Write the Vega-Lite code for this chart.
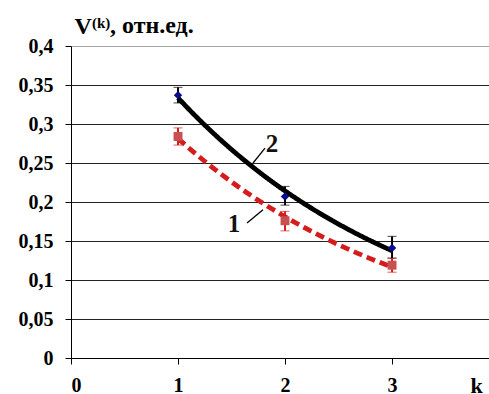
{
  "$schema": "https://vega.github.io/schema/vega-lite/v6.json",
  "width": 418,
  "height": 312,
  "autosize": "none",
  "padding": {"left": 71, "top": 46, "right": 0, "bottom": 36},
  "background": "white",
  "config": {"view": {"stroke": null}, "font": "Liberation Serif"},
  "datasets": {
    "pts": [
      {"series": "1", "k": 1, "v": 0.284, "ep": 0.011, "en": -0.011},
      {"series": "1", "k": 2, "v": 0.176, "ep": 0.012, "en": -0.013},
      {"series": "1", "k": 3, "v": 0.119, "ep": 0.009, "en": -0.009},
      {"series": "2", "k": 1, "v": 0.337, "ep": 0.010, "en": -0.010},
      {"series": "2", "k": 2, "v": 0.207, "ep": 0.013, "en": -0.011},
      {"series": "2", "k": 3, "v": 0.141, "ep": 0.015, "en": -0.013}
    ],
    "labels": [
      {"k": 1.879, "v": 0.274, "t": "2"},
      {"k": 1.523, "v": 0.172, "t": "1"}
    ],
    "leaders": [
      {"k": 1.813, "v": 0.269, "k2": 1.701, "v2": 0.25},
      {"k": 1.794, "v": 0.19, "k2": 1.645, "v2": 0.173}
    ],
    "sup": [{"k": 0.196, "v": 0.423, "t": "(k)"}],
    "unit": [{"k": 0.364, "v": 0.4167, "t": ", отн.ед."}]
  },
  "encoding": {
    "x": {
      "field": "k", "type": "quantitative", "title": "k",
      "scale": {"domain": [0, 3.906], "nice": false, "zero": false},
      "axis": {
        "values": [0, 1, 2, 3],
        "format": "d",
        "grid": false,
        "domainColor": "black", "domainWidth": 1,
        "tickColor": "black", "tickSize": 6,
        "labelFont": "Liberation Serif", "labelFontWeight": "bold", "labelFontSize": 20,
        "labelColor": "black", "labelPadding": 11,
        "title": "k", "titleX": 405, "titleY": 34, "titleAlign": "center",
        "titleBaseline": "alphabetic",
        "titleFont": "Liberation Serif", "titleFontSize": 22, "titleFontWeight": "bold",
        "titleColor": "black"
      }
    },
    "y": {
      "field": "v", "type": "quantitative", "title": "V",
      "scale": {"domain": [0, 0.4], "nice": false},
      "axis": {
        "values": [0, 0.05, 0.1, 0.15, 0.2, 0.25, 0.3, 0.35, 0.4],
        "grid": true,
        "gridColor": {"condition": {"test": "datum.value >= 0.4", "value": "#a6a6a6"}, "value": "#222222"},
        "gridWidth": 1,
        "domainColor": "black", "domainWidth": 1,
        "tickColor": "black", "tickSize": 6,
        "labelFont": "Liberation Serif", "labelFontWeight": "bold", "labelFontSize": 20,
        "labelColor": "black", "labelPadding": 12,
        "labelExpr": "replace(format(datum.value, '.2~f'), '.', ',')",
        "title": "V",
        "titleAngle": 0, "titleX": 3, "titleY": -13, "titleAlign": "left",
        "titleBaseline": "alphabetic",
        "titleFont": "Liberation Serif", "titleFontSize": 24, "titleFontWeight": "bold",
        "titleColor": "black"
      }
    }
  },
  "layer": [
    {
      "data": {"name": "pts"},
      "transform": [
        {"regression": "v", "on": "k", "method": "exp", "groupby": ["series"], "extent": [1, 3]}
      ],
      "mark": {"type": "line", "strokeWidth": 4.8},
      "encoding": {
        "color": {"field": "series", "type": "nominal", "scale": {"domain": ["1", "2"], "range": ["#d41c1c", "#000000"]}, "legend": null},
        "strokeDash": {"field": "series", "type": "nominal", "scale": {"domain": ["1", "2"], "range": [[9, 5], [1, 0]]}, "legend": null}
      }
    },
    {
      "data": {"name": "pts"},
      "mark": {"type": "errorbar", "ticks": {"size": 9, "strokeWidth": 2.5}, "rule": {"strokeWidth": 2}},
      "encoding": {
        "yError": {"field": "ep"},
        "yError2": {"field": "en"},
        "color": {"field": "series", "type": "nominal", "legend": null}
      }
    },
    {
      "data": {"name": "pts"},
      "mark": {"type": "point", "filled": true, "opacity": 1},
      "encoding": {
        "shape": {"field": "series", "type": "nominal", "scale": {"domain": ["1", "2"], "range": ["square", "diamond"]}, "legend": null},
        "fill": {"field": "series", "type": "nominal", "scale": {"domain": ["1", "2"], "range": ["#c85050", "#0a0a8c"]}, "legend": null},
        "size": {"field": "series", "type": "nominal", "scale": {"domain": ["1", "2"], "range": [80, 70]}, "legend": null}
      }
    },
    {
      "data": {"name": "leaders"},
      "mark": {"type": "rule", "color": "black", "strokeWidth": 1.3},
      "encoding": {
        "x2": {"field": "k2"},
        "y2": {"field": "v2"}
      }
    },
    {
      "data": {"name": "labels"},
      "mark": {"type": "text", "font": "Liberation Serif", "fontWeight": "bold", "fontSize": 25, "color": "#111111", "align": "center", "baseline": "middle"},
      "encoding": {
        "text": {"field": "t"}
      }
    },
    {
      "data": {"name": "sup"},
      "mark": {"type": "text", "font": "Liberation Serif", "fontWeight": "bold", "fontSize": 15, "color": "black", "align": "left", "baseline": "alphabetic", "clip": false},
      "encoding": {
        "text": {"field": "t"}
      }
    },
    {
      "data": {"name": "unit"},
      "mark": {"type": "text", "font": "Liberation Serif", "fontWeight": "bold", "fontSize": 24, "color": "black", "align": "left", "baseline": "alphabetic", "clip": false},
      "encoding": {
        "text": {"field": "t"}
      }
    }
  ]
}
